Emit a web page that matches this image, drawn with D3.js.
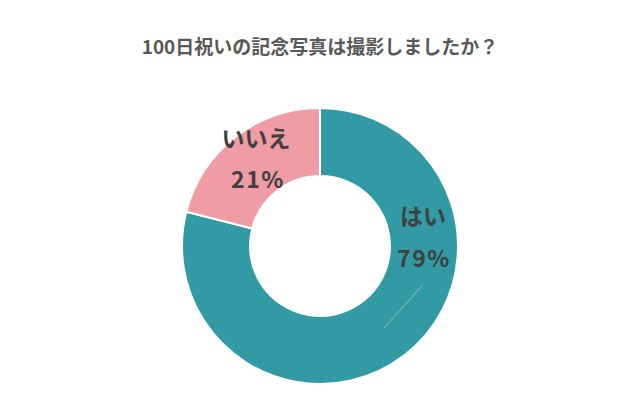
<!DOCTYPE html>
<html><head><meta charset="utf-8">
<script src="https://cdn.jsdelivr.net/npm/d3@7"></script>
<style>
html,body{margin:0;padding:0;background:#fff;}
svg{display:block;font-family:"Noto Sans CJK JP","Noto Sans",sans-serif;}
</style></head>
<body>
<svg id="c" width="640" height="414"></svg>
<script>
const title = "100日祝いの記念写真は撮影しましたか？";
const categories = ["はい", "いいえ"];
const values = [79, 21];
const colors = ["#319AA4", "#F09CA4"];

const W = 640, H = 414, cx = 320, cy = 246, rOuter = 138, rInner = 70;
const svg = d3.select("#c");

svg.append("text").attr("x", 320).attr("y", 54)
  .attr("text-anchor", "middle").attr("font-size", 19).attr("font-weight", 700)
  .attr("fill", "#595959").text(title);

const data = categories.map((c, i) => ({cat: c, val: values[i], color: colors[i]}));
const pie = d3.pie().value(d => d.val).sort(null);
const arcs = pie(data);
const arc = d3.arc().innerRadius(rInner).outerRadius(rOuter);
const g = svg.append("g").attr("transform", `translate(${cx},${cy})`);

g.selectAll("path").data(arcs).join("path")
  .attr("d", arc).attr("fill", d => d.data.color)
  .attr("stroke", "#fff").attr("stroke-width", 2);

// faint leader line in the teal slice
const p1 = d3.pointRadial(Math.PI * 142 / 180, 104);
const p2 = d3.pointRadial(Math.PI * 110.7 / 180, 110);
g.append("line").attr("x1", p1[0]).attr("y1", p1[1]).attr("x2", p2[0]).attr("y2", p2[1])
  .attr("stroke", "#A9B4B6").attr("stroke-width", 1);

// labels
const labelPos = [[103, -31], [-64, -109]];
const pctPos = [[104, 11], [-62, -68]];
arcs.forEach((d, i) => {
  g.append("text").attr("x", labelPos[i][0]).attr("y", labelPos[i][1])
    .attr("text-anchor", "middle").attr("dominant-baseline", "central")
    .attr("font-size", 23).attr("font-weight", 700).attr("fill", "#404040")
    .text(d.data.cat);
  g.append("text").attr("x", pctPos[i][0]).attr("y", pctPos[i][1])
    .attr("text-anchor", "middle").attr("dominant-baseline", "central")
    .attr("font-size", 23).attr("font-weight", 700).attr("fill", "#404040")
    .attr("letter-spacing", 1.5)
    .text(d.data.val + "%");
});
</script>
</body></html>
